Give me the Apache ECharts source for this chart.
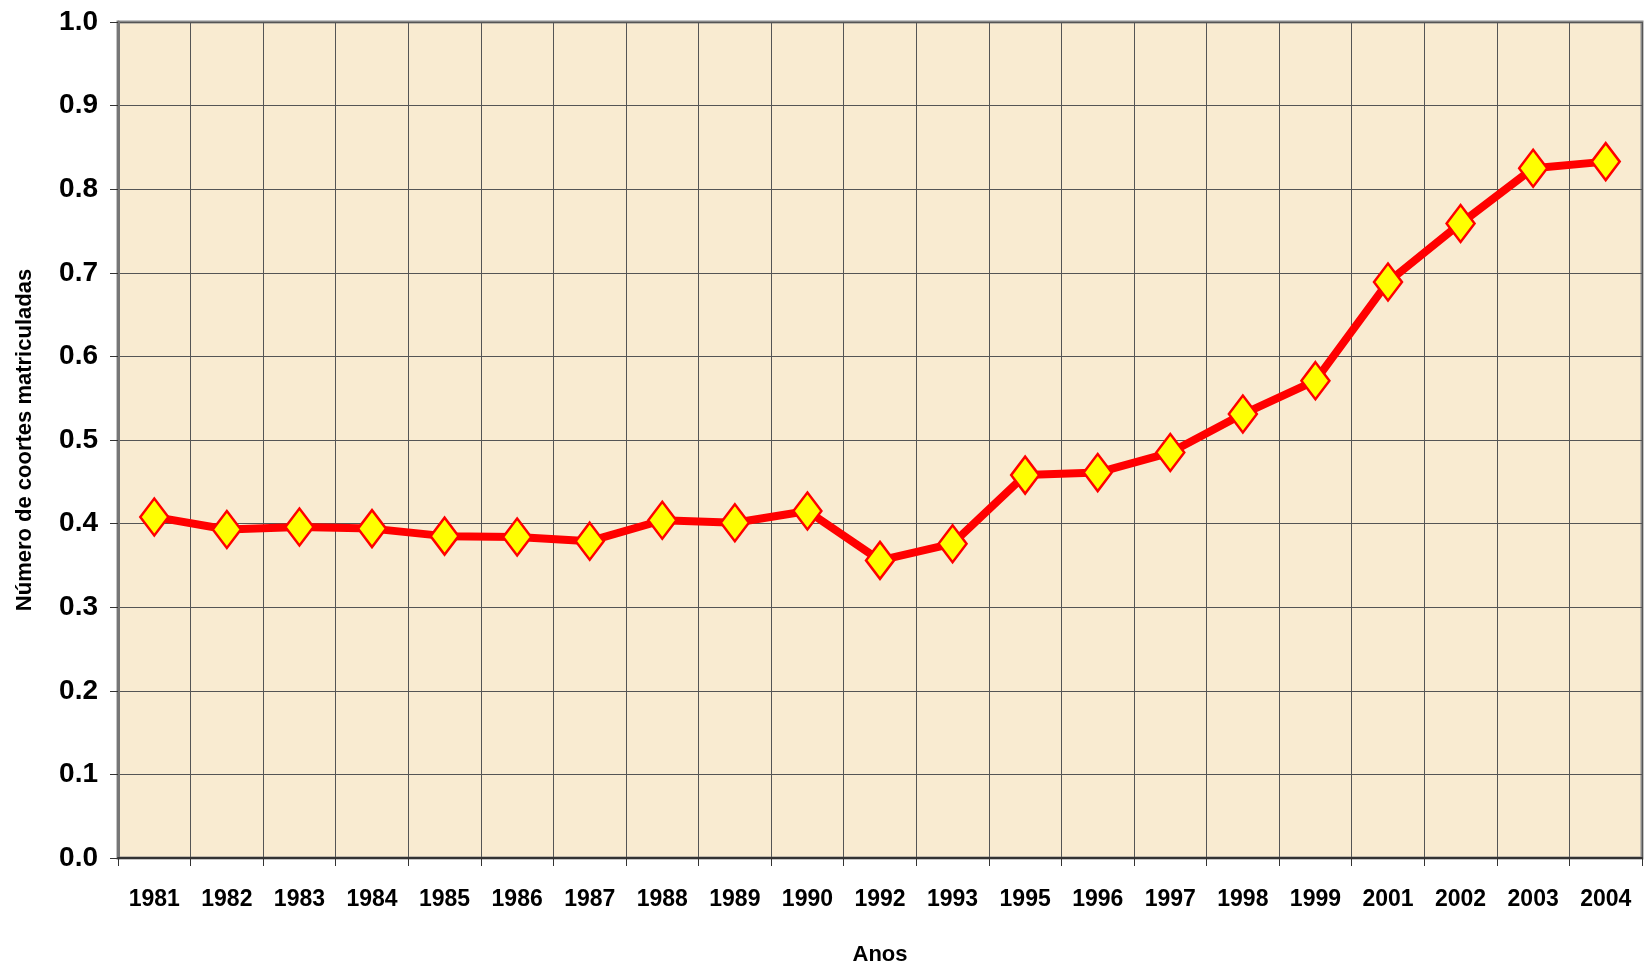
<!DOCTYPE html>
<html>
<head>
<meta charset="utf-8">
<script src="https://cdn.jsdelivr.net/npm/echarts@6/dist/echarts.min.js"></script>
<style>
  html, body { margin: 0; padding: 0; background: #ffffff; }
</style>
</head>
<body>
<div id="main" style="width:1649px;height:969px;"></div>
<script>
  // 数据
  var anos = ["1981", "1982", "1983", "1984", "1985", "1986", "1987", "1988", "1989", "1990",
    "1992", "1993", "1995", "1996", "1997", "1998", "1999", "2001", "2002", "2003", "2004"];
  var coortes = [0.408, 0.393, 0.396, 0.394, 0.385, 0.384, 0.379, 0.404, 0.401, 0.415,
    0.356, 0.376, 0.458, 0.461, 0.485, 0.531, 0.571, 0.689, 0.759, 0.825, 0.833];

  var fonte = '"Liberation Sans Narrow", "Arial Narrow", "Liberation Sans", sans-serif';

  var chart = echarts.init(document.getElementById("main"));
  chart.setOption({
    animation: false,
    grid: {
      left: 118,
      right: 7,
      top: 22,
      bottom: 111,
      outerBoundsMode: "none", // 不让v6自动缩小绘图区
      show: true,
      backgroundColor: "#f9ebd1",
      borderColor: "#8a8a8a",
      borderWidth: 3
    },
    xAxis: {
      type: "category",
      data: anos,
      boundaryGap: true,
      name: "Anos",
      nameLocation: "middle",
      nameGap: 86,
      nameTextStyle: { fontFamily: fonte, fontWeight: "bold", fontSize: 22, color: "#000" },
      axisLine: { lineStyle: { color: "#333", width: 2 } },
      axisTick: { show: true, alignWithLabel: false, length: 8, lineStyle: { color: "#333", width: 1 } },
      axisLabel: { margin: 30, fontFamily: fonte, fontWeight: "bold", fontSize: 23, color: "#000", interval: 0 },
      splitLine: { show: true, interval: 0, lineStyle: { color: "#555", width: 1 } }
    },
    yAxis: {
      type: "value",
      min: 0,
      max: 1,
      interval: 0.1,
      name: "Número de coortes matriculadas",
      nameLocation: "middle",
      nameGap: 82,
      nameTextStyle: { fontFamily: fonte, fontWeight: "bold", fontSize: 22, color: "#000" },
      axisLine: { show: true, lineStyle: { color: "#777", width: 3 } },
      axisTick: { show: true, length: 8, lineStyle: { color: "#333", width: 1 } },
      axisLabel: {
        margin: 20,
        fontFamily: fonte,
        fontWeight: "bold",
        fontSize: 28,
        color: "#000",
        formatter: function (v) { return v.toFixed(1); }
      },
      splitLine: { show: true, lineStyle: { color: "#555", width: 1 } }
    },
    series: [
      {
        type: "line",
        data: coortes,
        symbol: "diamond",
        symbolSize: [28, 37],
        lineStyle: { color: "#ff0000", width: 8 },
        itemStyle: { color: "#ffff00", borderColor: "#ff0000", borderWidth: 2.5 }
      }
    ]
  });
</script>
</body>
</html>
